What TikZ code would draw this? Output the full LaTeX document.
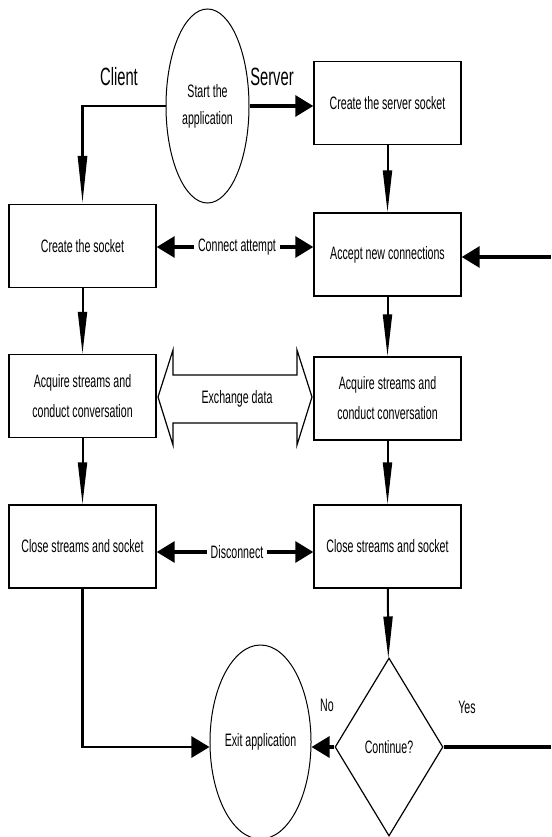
\documentclass[tikz,border=0pt]{standalone}
\usepackage{fontspec}
\setmainfont{Liberation Sans}[FakeStretch=0.59]
\usetikzlibrary{shapes.geometric,arrows.meta}
\def\bodyfont{\fontsize{18}{30}\selectfont}
\def\sidefont{\fontsize{25}{30}\selectfont}
\def\xchgarrow{(158,397) -- (173,350) -- (173,375) -- (297,375) -- (297,350) -- (312,397) -- (297,445) -- (297,423) -- (173,423) -- (173,445) -- cycle}

\begin{document}
\begin{tikzpicture}[x=1pt,y=-1pt,
  box/.style={draw,line width=1.4pt,minimum width=147pt,minimum height=83pt,inner sep=0pt,align=center,font=\bodyfont},
  oval/.style={draw,ellipse,line width=1pt,minimum width=83pt,minimum height=194pt,inner sep=0pt,align=center,font=\fontsize{18}{27}\selectfont},
  ask/.style={draw,diamond,line width=1.2pt,minimum width=108pt,minimum height=178pt,inner sep=0pt,font=\bodyfont},
  tag/.style={font=\bodyfont,inner sep=4pt},
  side/.style={font=\sidefont,inner sep=0pt},
  down/.style={line width=2pt,-{Triangle[length=42pt,width=9pt]}},
  across/.style={line width=3.2pt,-{Triangle[length=18pt,width=21pt]}}]
\useasboundingbox (0,0) rectangle (551,837);

\node[oval] (start) at (207.5,106) {Start the\\application};
\node[side] (client) at (119,77) {Client};
\node[side] (server) at (272,77) {Server};

\node[box] (srvsock) at (387.5,103) {Create the server socket};
\node[box] (clisock) at (82.5,246) {Create the socket};
\node[box] (accept) at (387.5,254.5) {Accept new connections};
\node[box] (acqcli) at (82.5,396) {Acquire streams and\\conduct conversation};
\node[box] (acqsrv) at (387.5,398.5) {Acquire streams and\\conduct conversation};
\node[box] (closecli) at (82.5,546.5) {Close streams and socket};
\node[box] (closesrv) at (387.5,546.5) {Close streams and socket};

\node[ask] (cont) at (389,747) {Continue?};
\node[oval,font=\bodyfont] (exit) at (260.5,742) {Exit application};
\node[tag] (no) at (327,705) {No};
\node[tag] (yes) at (467,707) {Yes};

\node[tag] (conn) at (237,247) {Connect attempt};
\node[tag] (disc) at (237,552) {Disconnect};
\draw[line width=1.2pt] \xchgarrow;
\node[tag] (xchg) at (237,399) {Exchange data};

\coordinate (rin) at (551,257);
\coordinate (rout) at (551,747);

\draw[line width=2.8pt,-{Triangle[length=48pt,width=9pt]}] (start.west) -| (clisock.north);
\draw[across] (start.east) -- (start.east -| srvsock.west);
\draw[down] (srvsock) -- (accept);
\draw[down] (clisock) -- (acqcli);
\draw[down] (accept) -- (acqsrv);
\draw[down] (acqcli) -- (closecli);
\draw[down] (acqsrv) -- (closesrv);
\draw[down] (closesrv) -- (cont);

\draw[across] (conn.west) -- (conn.west -| clisock.east);
\draw[across] (conn.east) -- (conn.east -| accept.west);
\draw[across] (disc.west) -- (disc.west -| closecli.east);
\draw[across] (disc.east) -- (disc.east -| closesrv.west);
\draw[across] (rin) -- (rin -| accept.east);

\draw[line width=2.8pt,-{Triangle[length=18pt,width=21pt]}] (closecli.south) |- (exit.west |- cont.west);
\draw[across] (cont.west) -- (exit.east |- cont.west);
\draw[line width=3.2pt] (cont.east) -- (rout);
\end{tikzpicture}
\end{document}
